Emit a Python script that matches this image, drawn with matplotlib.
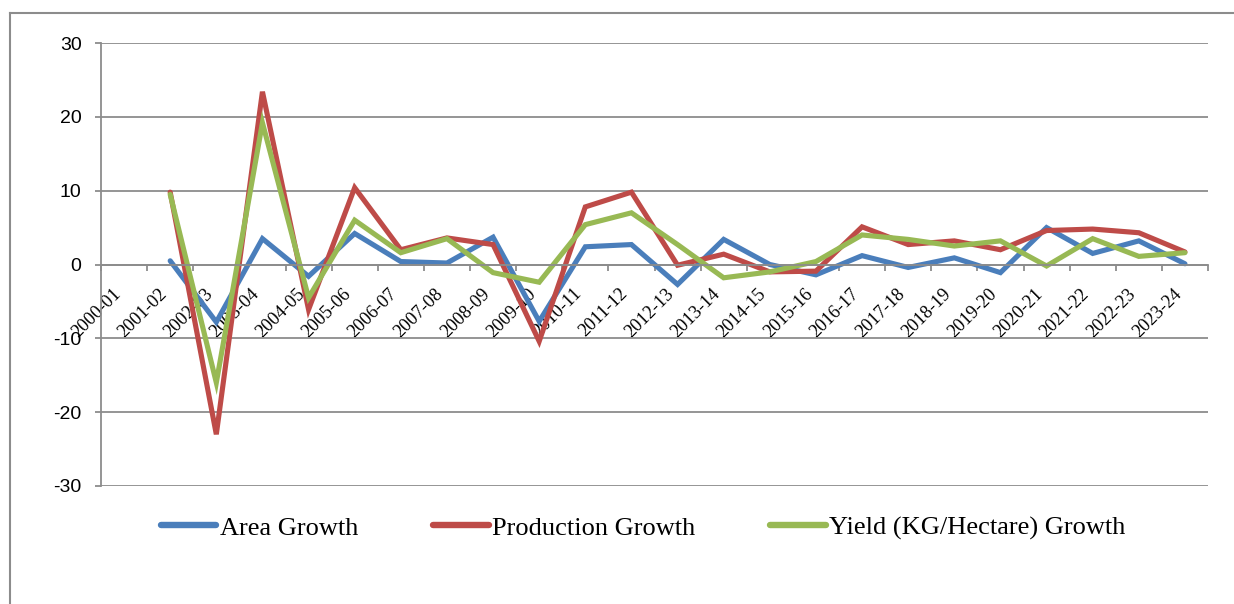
import matplotlib
matplotlib.use("Agg")
import matplotlib.pyplot as plt
import matplotlib.transforms as mtransforms
import numpy as np
from matplotlib.lines import Line2D

years = ["2000-01", "2001-02", "2002-03", "2003-04", "2004-05", "2005-06", "2006-07",
         "2007-08", "2008-09", "2009-10", "2010-11", "2011-12", "2012-13", "2013-14",
         "2014-15", "2015-16", "2016-17", "2017-18", "2018-19", "2019-20", "2020-21",
         "2021-22", "2022-23", "2023-24"]

area_growth = [np.nan, 0.5, -7.8, 3.5, -1.6, 4.2, 0.4, 0.2, 3.7, -7.7, 2.4, 2.7, -2.7,
               3.4, 0.0, -1.4, 1.2, -0.4, 0.9, -1.1, 5.0, 1.5, 3.2, 0.1]
production_growth = [np.nan, 9.8, -23.0, 23.4, -6.1, 10.4, 2.0, 3.6, 2.7, -10.4, 7.8, 9.8,
                     -0.1, 1.4, -1.0, -0.9, 5.1, 2.7, 3.2, 2.0, 4.6, 4.8, 4.3, 1.7]
yield_growth = [np.nan, 9.5, -16.0, 19.2, -4.5, 6.0, 1.6, 3.5, -1.1, -2.4, 5.4, 7.0, 2.7,
                -1.8, -1.0, 0.4, 4.0, 3.4, 2.5, 3.2, -0.2, 3.5, 1.1, 1.6]

series_names = ["Area Growth", "Production Growth", "Yield (KG/Hectare) Growth"]
colors = ["#4A7EBB", "#BE4B48", "#98B954"]
yticks = [-30, -20, -10, 0, 10, 20, 30]

fig = plt.figure(figsize=(12.34, 6.04), dpi=100)
fig.patch.set_facecolor("white")

# outer frame (top and left edges visible)
fig.add_artist(Line2D([10/1234, 1.0], [1-13/604, 1-13/604], color="#8C8C8C", lw=1.5,
                      transform=fig.transFigure))
fig.add_artist(Line2D([10/1234, 10/1234], [0, 1-13/604], color="#8C8C8C", lw=1.5,
                      transform=fig.transFigure))

ax = fig.add_axes([101/1234, 1-486/604, (1208-101)/1234, (486-43)/604])
x = np.arange(len(years))
for vals, c in zip([area_growth, production_growth, yield_growth], colors):
    ax.plot(x, vals, color=c, lw=3.7, solid_joinstyle="miter", solid_capstyle="round")

ax.set_xlim(-0.5, len(years) - 0.5)
ax.set_ylim(-30, 30)
ax.set_yticks(yticks)
ax.set_yticklabels([str(v) for v in yticks], fontfamily="Liberation Sans", fontsize=14)
ax.yaxis.grid(True, color="#8C8C8C", lw=1.3)
ax.set_axisbelow(True)

for s in ["top", "right"]:
    ax.spines[s].set_visible(False)
ax.spines["left"].set_color("#8C8C8C")
ax.spines["left"].set_linewidth(1.3)
ax.spines["bottom"].set_position(("data", 0))
ax.spines["bottom"].set_color("#8C8C8C")
ax.spines["bottom"].set_linewidth(1.3)

ax.tick_params(axis="y", length=4, width=1.3, color="#8C8C8C", pad=10)
ax.set_xticks(x)
ax.set_xticklabels(years, rotation=45, ha="right", rotation_mode="default",
                   fontfamily="Liberation Serif", fontsize=13.2)
offset = mtransforms.ScaledTranslation(12/100, 0, fig.dpi_scale_trans)
for lab in ax.get_xticklabels():
    lab.set_transform(lab.get_transform() + offset)
ax.set_xticks(np.arange(-0.5, len(years) + 0.5, 1), minor=True)
ax.tick_params(axis="x", which="major", length=0, pad=15)
ax.tick_params(axis="x", which="minor", length=4, width=1.3, color="#8C8C8C", direction="out")

handles = [Line2D([], [], color=c, lw=4.6, solid_capstyle="round") for c in colors]
leg = fig.legend(handles, series_names, loc="center", bbox_to_anchor=(643/1234, 1-528/604),
                 ncol=3, frameon=False, prop={"family": "Liberation Serif", "size": 19},
                 handlelength=2.1, handletextpad=0.12, columnspacing=2.85)

fig.savefig("out.png", dpi=100, facecolor="white")
